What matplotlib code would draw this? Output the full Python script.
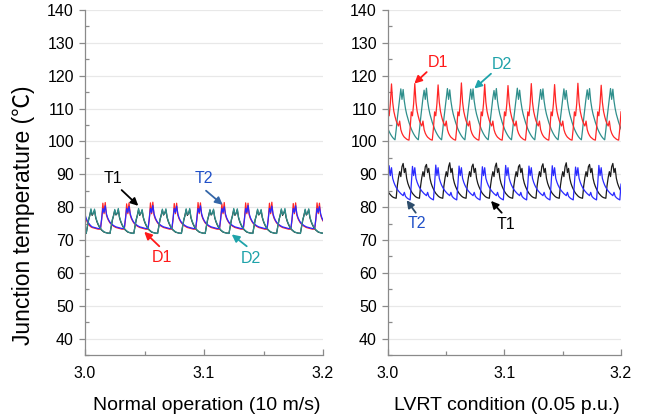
import numpy as np
import matplotlib.pyplot as plt
from matplotlib.ticker import MultipleLocator, FormatStrFormatter

plt.rcParams['font.family'] = ['Liberation Sans', 'DejaVu Sans']

# sampling of the simulated junction temperatures (s)
T_START = 3.0
DT = 0.001

# ---- normal operation (10 m/s) ----
NORM_T1 = [
    72.1, 72.0, 74.0, 76.0, 77.6, 79.1, 77.5, 78.2, 79.0, 76.8, 75.6, 74.7, 74.0, 73.4, 73.0, 72.7, 72.4, 72.3, 72.2, 72.1,
    72.1, 72.0, 74.0, 76.0, 77.5, 79.0, 77.6, 78.1, 79.2, 76.8, 75.6, 74.7, 74.0, 73.4, 73.0, 72.7, 72.4, 72.3, 72.2, 72.1,
    72.1, 72.0, 74.1, 76.0, 77.6, 79.2, 77.5, 78.2, 79.0, 76.8, 75.6, 74.7, 74.0, 73.4, 73.0, 72.7, 72.4, 72.3, 72.2, 72.1,
    72.1, 72.0, 74.0, 76.1, 77.6, 79.1, 77.6, 78.2, 79.1, 76.8, 75.6, 74.7, 74.0, 73.4, 73.0, 72.7, 72.4, 72.3, 72.2, 72.1,
    72.1, 72.0, 74.0, 76.0, 77.5, 79.2, 77.5, 78.1, 79.2, 76.8, 75.6, 74.7, 74.0, 73.4, 73.0, 72.7, 72.4, 72.3, 72.2, 72.1,
    72.1, 72.0, 74.1, 76.0, 77.6, 79.0, 77.6, 78.2, 79.1, 76.8, 75.6, 74.7, 74.0, 73.4, 73.0, 72.7, 72.4, 72.3, 72.2, 72.1,
    72.1, 72.0, 74.0, 76.0, 77.6, 79.2, 77.5, 78.2, 79.2, 76.8, 75.6, 74.7, 74.0, 73.4, 73.0, 72.7, 72.4, 72.3, 72.2, 72.1,
    72.1, 72.0, 74.0, 76.1, 77.5, 79.1, 77.6, 78.1, 79.0, 76.8, 75.6, 74.7, 74.0, 73.4, 73.0, 72.7, 72.4, 72.3, 72.2, 72.1,
    72.1, 72.0, 74.1, 76.0, 77.6, 79.2, 77.5, 78.2, 79.1, 76.8, 75.6, 74.7, 74.0, 73.4, 73.0, 72.7, 72.4, 72.3, 72.2, 72.1,
    72.1, 72.0, 74.0, 76.0, 77.6, 79.1, 77.6, 78.2, 79.2, 76.8, 75.6, 74.7, 74.0, 73.4, 73.0, 72.7, 72.4, 72.3, 72.2, 72.1,
    72.1,
]
NORM_D1 = [
    77.2, 76.2, 75.4, 74.8, 74.3, 74.0, 73.8, 73.7, 73.6, 73.5, 73.4, 73.3, 73.3, 73.3, 76.2, 81.2, 78.0, 81.4, 77.6, 76.5,
    75.8, 75.2, 74.8, 74.5, 74.2, 74.0, 73.8, 73.7, 73.6, 73.5, 73.4, 73.3, 73.3, 73.3, 76.2, 81.0, 78.0, 81.3, 77.6, 76.5,
    75.8, 75.2, 74.8, 74.5, 74.2, 74.0, 73.8, 73.7, 73.6, 73.5, 73.4, 73.3, 73.3, 73.3, 76.2, 81.3, 78.0, 81.5, 77.6, 76.5,
    75.8, 75.2, 74.8, 74.5, 74.2, 74.0, 73.8, 73.7, 73.6, 73.5, 73.4, 73.3, 73.3, 73.3, 76.2, 81.1, 78.0, 81.2, 77.6, 76.5,
    75.8, 75.2, 74.8, 74.5, 74.2, 74.0, 73.8, 73.7, 73.6, 73.5, 73.4, 73.3, 73.3, 73.3, 76.2, 81.4, 78.0, 81.3, 77.6, 76.5,
    75.8, 75.2, 74.8, 74.5, 74.2, 74.0, 73.8, 73.7, 73.6, 73.5, 73.4, 73.3, 73.3, 73.3, 76.2, 81.0, 78.0, 81.4, 77.6, 76.5,
    75.8, 75.2, 74.8, 74.5, 74.2, 74.0, 73.8, 73.7, 73.6, 73.5, 73.4, 73.3, 73.3, 73.3, 76.2, 81.3, 78.0, 81.2, 77.6, 76.5,
    75.8, 75.2, 74.8, 74.5, 74.2, 74.0, 73.8, 73.7, 73.6, 73.5, 73.4, 73.3, 73.3, 73.3, 76.2, 81.2, 78.0, 81.5, 77.6, 76.5,
    75.8, 75.2, 74.8, 74.5, 74.2, 74.0, 73.8, 73.7, 73.6, 73.5, 73.4, 73.3, 73.3, 73.3, 76.2, 81.1, 78.0, 81.3, 77.6, 76.5,
    75.8, 75.2, 74.8, 74.5, 74.2, 74.0, 73.8, 73.7, 73.6, 73.5, 73.4, 73.3, 73.3, 73.3, 76.2, 81.3, 78.0, 81.2, 77.6, 76.5,
    75.8,
]
NORM_T2 = [
    77.8, 76.6, 75.8, 75.2, 74.7, 74.3, 74.0, 73.9, 73.8, 73.7, 73.6, 73.5, 73.5, 73.5, 76.5, 79.6, 78.4, 80.4, 78.0, 76.8,
    76.0, 75.4, 75.0, 74.7, 74.4, 74.2, 74.0, 73.9, 73.8, 73.7, 73.6, 73.5, 73.5, 73.5, 76.5, 79.6, 78.4, 80.2, 78.0, 76.8,
    76.0, 75.4, 75.0, 74.7, 74.4, 74.2, 74.0, 73.9, 73.8, 73.7, 73.6, 73.5, 73.5, 73.5, 76.5, 79.6, 78.4, 80.5, 78.0, 76.8,
    76.0, 75.4, 75.0, 74.7, 74.4, 74.2, 74.0, 73.9, 73.8, 73.7, 73.6, 73.5, 73.5, 73.5, 76.5, 79.6, 78.4, 80.3, 78.0, 76.8,
    76.0, 75.4, 75.0, 74.7, 74.4, 74.2, 74.0, 73.9, 73.8, 73.7, 73.6, 73.5, 73.5, 73.5, 76.5, 79.6, 78.4, 80.4, 78.0, 76.8,
    76.0, 75.4, 75.0, 74.7, 74.4, 74.2, 74.0, 73.9, 73.8, 73.7, 73.6, 73.5, 73.5, 73.5, 76.5, 79.6, 78.4, 80.1, 78.0, 76.8,
    76.0, 75.4, 75.0, 74.7, 74.4, 74.2, 74.0, 73.9, 73.8, 73.7, 73.6, 73.5, 73.5, 73.5, 76.5, 79.6, 78.4, 80.5, 78.0, 76.8,
    76.0, 75.4, 75.0, 74.7, 74.4, 74.2, 74.0, 73.9, 73.8, 73.7, 73.6, 73.5, 73.5, 73.5, 76.5, 79.6, 78.4, 80.3, 78.0, 76.8,
    76.0, 75.4, 75.0, 74.7, 74.4, 74.2, 74.0, 73.9, 73.8, 73.7, 73.6, 73.5, 73.5, 73.5, 76.5, 79.6, 78.4, 80.4, 78.0, 76.8,
    76.0, 75.4, 75.0, 74.7, 74.4, 74.2, 74.0, 73.9, 73.8, 73.7, 73.6, 73.5, 73.5, 73.5, 76.5, 79.6, 78.4, 80.2, 78.0, 76.8,
    76.0,
]
NORM_D2 = [
    72.0, 72.0, 74.2, 76.3, 77.3, 79.5, 77.8, 78.0, 79.4, 77.0, 75.8, 74.9, 74.2, 73.6, 73.1, 72.8, 72.5, 72.3, 72.2, 72.1,
    72.0, 72.0, 74.2, 76.3, 77.3, 79.3, 77.8, 78.0, 79.6, 77.0, 75.8, 74.9, 74.2, 73.6, 73.1, 72.8, 72.5, 72.3, 72.2, 72.1,
    72.0, 72.0, 74.2, 76.3, 77.3, 79.6, 77.8, 78.0, 79.3, 77.0, 75.8, 74.9, 74.2, 73.6, 73.1, 72.8, 72.5, 72.3, 72.2, 72.1,
    72.0, 72.0, 74.2, 76.3, 77.3, 79.4, 77.8, 78.0, 79.5, 77.0, 75.8, 74.9, 74.2, 73.6, 73.1, 72.8, 72.5, 72.3, 72.2, 72.1,
    72.0, 72.0, 74.2, 76.3, 77.3, 79.5, 77.8, 78.0, 79.6, 77.0, 75.8, 74.9, 74.2, 73.6, 73.1, 72.8, 72.5, 72.3, 72.2, 72.1,
    72.0, 72.0, 74.2, 76.3, 77.3, 79.3, 77.8, 78.0, 79.4, 77.0, 75.8, 74.9, 74.2, 73.6, 73.1, 72.8, 72.5, 72.3, 72.2, 72.1,
    72.0, 72.0, 74.2, 76.3, 77.3, 79.6, 77.8, 78.0, 79.5, 77.0, 75.8, 74.9, 74.2, 73.6, 73.1, 72.8, 72.5, 72.3, 72.2, 72.1,
    72.0, 72.0, 74.2, 76.3, 77.3, 79.4, 77.8, 78.0, 79.3, 77.0, 75.8, 74.9, 74.2, 73.6, 73.1, 72.8, 72.5, 72.3, 72.2, 72.1,
    72.0, 72.0, 74.2, 76.3, 77.3, 79.5, 77.8, 78.0, 79.6, 77.0, 75.8, 74.9, 74.2, 73.6, 73.1, 72.8, 72.5, 72.3, 72.2, 72.1,
    72.0, 72.0, 74.2, 76.3, 77.3, 79.4, 77.8, 78.0, 79.5, 77.0, 75.8, 74.9, 74.2, 73.6, 73.1, 72.8, 72.5, 72.3, 72.2, 72.1,
    72.0,
]

# ---- LVRT condition (0.05 p.u.) ----
LVRT_T1 = [
    84.8, 84.2, 83.8, 83.4, 83.1, 82.9, 82.8, 82.7, 86.5, 89.0, 90.8, 89.3, 92.3, 93.3, 90.5, 91.8, 88.8, 87.3, 86.3, 85.5,
    84.8, 84.2, 83.8, 83.4, 83.1, 82.9, 82.8, 82.7, 86.5, 89.0, 90.8, 89.3, 92.3, 93.0, 90.5, 91.8, 88.8, 87.3, 86.3, 85.5,
    84.8, 84.2, 83.8, 83.4, 83.1, 82.9, 82.8, 82.7, 86.5, 89.0, 90.8, 89.3, 92.3, 93.5, 90.5, 91.8, 88.8, 87.3, 86.3, 85.5,
    84.8, 84.2, 83.8, 83.4, 83.1, 82.9, 82.8, 82.7, 86.5, 89.0, 90.8, 89.3, 92.3, 93.1, 90.5, 91.8, 88.8, 87.3, 86.3, 85.5,
    84.8, 84.2, 83.8, 83.4, 83.1, 82.9, 82.8, 82.7, 86.5, 89.0, 90.8, 89.3, 92.3, 93.4, 90.5, 91.8, 88.8, 87.3, 86.3, 85.5,
    84.8, 84.2, 83.8, 83.4, 83.1, 82.9, 82.8, 82.7, 86.5, 89.0, 90.8, 89.3, 92.3, 92.9, 90.5, 91.8, 88.8, 87.3, 86.3, 85.5,
    84.8, 84.2, 83.8, 83.4, 83.1, 82.9, 82.8, 82.7, 86.5, 89.0, 90.8, 89.3, 92.3, 93.2, 90.5, 91.8, 88.8, 87.3, 86.3, 85.5,
    84.8, 84.2, 83.8, 83.4, 83.1, 82.9, 82.8, 82.7, 86.5, 89.0, 90.8, 89.3, 92.3, 93.5, 90.5, 91.8, 88.8, 87.3, 86.3, 85.5,
    84.8, 84.2, 83.8, 83.4, 83.1, 82.9, 82.8, 82.7, 86.5, 89.0, 90.8, 89.3, 92.3, 93.0, 90.5, 91.8, 88.8, 87.3, 86.3, 85.5,
    84.8, 84.2, 83.8, 83.4, 83.1, 82.9, 82.8, 82.7, 86.5, 89.0, 90.8, 89.3, 92.3, 93.3, 90.5, 91.8, 88.8, 87.3, 86.3, 85.5,
    84.8,
]
LVRT_D1 = [
    109.0, 107.8, 111.5, 117.5, 112.0, 109.2, 107.6, 106.3, 105.4, 104.7, 106.2, 103.6, 102.5, 101.8, 101.3, 101.0, 100.7, 100.5, 100.4, 104.0,
    109.0, 107.8, 111.5, 117.6, 112.0, 109.2, 107.6, 106.3, 105.4, 104.7, 106.2, 103.6, 102.5, 101.8, 101.3, 101.0, 100.7, 100.5, 100.4, 104.0,
    109.0, 107.8, 111.5, 117.2, 112.0, 109.2, 107.6, 106.3, 105.4, 104.7, 106.2, 103.6, 102.5, 101.8, 101.3, 101.0, 100.7, 100.5, 100.4, 104.0,
    109.0, 107.8, 111.5, 117.8, 112.0, 109.2, 107.6, 106.3, 105.4, 104.7, 106.2, 103.6, 102.5, 101.8, 101.3, 101.0, 100.7, 100.5, 100.4, 104.0,
    109.0, 107.8, 111.5, 117.4, 112.0, 109.2, 107.6, 106.3, 105.4, 104.7, 106.2, 103.6, 102.5, 101.8, 101.3, 101.0, 100.7, 100.5, 100.4, 104.0,
    109.0, 107.8, 111.5, 117.0, 112.0, 109.2, 107.6, 106.3, 105.4, 104.7, 106.2, 103.6, 102.5, 101.8, 101.3, 101.0, 100.7, 100.5, 100.4, 104.0,
    109.0, 107.8, 111.5, 117.6, 112.0, 109.2, 107.6, 106.3, 105.4, 104.7, 106.2, 103.6, 102.5, 101.8, 101.3, 101.0, 100.7, 100.5, 100.4, 104.0,
    109.0, 107.8, 111.5, 117.3, 112.0, 109.2, 107.6, 106.3, 105.4, 104.7, 106.2, 103.6, 102.5, 101.8, 101.3, 101.0, 100.7, 100.5, 100.4, 104.0,
    109.0, 107.8, 111.5, 117.7, 112.0, 109.2, 107.6, 106.3, 105.4, 104.7, 106.2, 103.6, 102.5, 101.8, 101.3, 101.0, 100.7, 100.5, 100.4, 104.0,
    109.0, 107.8, 111.5, 117.1, 112.0, 109.2, 107.6, 106.3, 105.4, 104.7, 106.2, 103.6, 102.5, 101.8, 101.3, 101.0, 100.7, 100.5, 100.4, 104.0,
    109.0,
]
LVRT_T2 = [
    87.0, 92.6, 89.6, 92.0, 88.8, 87.6, 86.7, 86.0, 85.4, 84.9, 84.5, 84.1, 83.8, 83.5, 84.5, 83.3, 82.9, 82.6, 82.4, 82.2,
    87.0, 92.4, 89.6, 92.0, 88.8, 87.6, 86.7, 86.0, 85.4, 84.9, 84.5, 84.1, 83.8, 83.5, 84.5, 83.3, 82.9, 82.6, 82.4, 82.2,
    87.0, 92.8, 89.6, 92.0, 88.8, 87.6, 86.7, 86.0, 85.4, 84.9, 84.5, 84.1, 83.8, 83.5, 84.5, 83.3, 82.9, 82.6, 82.4, 82.2,
    87.0, 92.5, 89.6, 92.0, 88.8, 87.6, 86.7, 86.0, 85.4, 84.9, 84.5, 84.1, 83.8, 83.5, 84.5, 83.3, 82.9, 82.6, 82.4, 82.2,
    87.0, 92.3, 89.6, 92.0, 88.8, 87.6, 86.7, 86.0, 85.4, 84.9, 84.5, 84.1, 83.8, 83.5, 84.5, 83.3, 82.9, 82.6, 82.4, 82.2,
    87.0, 92.7, 89.6, 92.0, 88.8, 87.6, 86.7, 86.0, 85.4, 84.9, 84.5, 84.1, 83.8, 83.5, 84.5, 83.3, 82.9, 82.6, 82.4, 82.2,
    87.0, 92.5, 89.6, 92.0, 88.8, 87.6, 86.7, 86.0, 85.4, 84.9, 84.5, 84.1, 83.8, 83.5, 84.5, 83.3, 82.9, 82.6, 82.4, 82.2,
    87.0, 92.6, 89.6, 92.0, 88.8, 87.6, 86.7, 86.0, 85.4, 84.9, 84.5, 84.1, 83.8, 83.5, 84.5, 83.3, 82.9, 82.6, 82.4, 82.2,
    87.0, 92.2, 89.6, 92.0, 88.8, 87.6, 86.7, 86.0, 85.4, 84.9, 84.5, 84.1, 83.8, 83.5, 84.5, 83.3, 82.9, 82.6, 82.4, 82.2,
    87.0, 92.7, 89.6, 92.0, 88.8, 87.6, 86.7, 86.0, 85.4, 84.9, 84.5, 84.1, 83.8, 83.5, 84.5, 83.3, 82.9, 82.6, 82.4, 82.2,
    87.0,
]
LVRT_D2 = [
    103.8, 103.0, 102.3, 101.7, 101.2, 100.8, 100.5, 103.5, 107.0, 110.0, 113.2, 116.0, 112.8, 115.8, 112.3, 110.0, 108.3, 107.0, 105.8, 104.8,
    103.8, 103.0, 102.3, 101.7, 101.2, 100.8, 100.5, 103.5, 107.0, 110.0, 113.2, 115.6, 112.8, 116.2, 112.3, 110.0, 108.3, 107.0, 105.8, 104.8,
    103.8, 103.0, 102.3, 101.7, 101.2, 100.8, 100.5, 103.5, 107.0, 110.0, 113.2, 116.1, 112.8, 115.7, 112.3, 110.0, 108.3, 107.0, 105.8, 104.8,
    103.8, 103.0, 102.3, 101.7, 101.2, 100.8, 100.5, 103.5, 107.0, 110.0, 113.2, 115.9, 112.8, 116.0, 112.3, 110.0, 108.3, 107.0, 105.8, 104.8,
    103.8, 103.0, 102.3, 101.7, 101.2, 100.8, 100.5, 103.5, 107.0, 110.0, 113.2, 115.5, 112.8, 116.1, 112.3, 110.0, 108.3, 107.0, 105.8, 104.8,
    103.8, 103.0, 102.3, 101.7, 101.2, 100.8, 100.5, 103.5, 107.0, 110.0, 113.2, 116.2, 112.8, 115.6, 112.3, 110.0, 108.3, 107.0, 105.8, 104.8,
    103.8, 103.0, 102.3, 101.7, 101.2, 100.8, 100.5, 103.5, 107.0, 110.0, 113.2, 115.8, 112.8, 116.0, 112.3, 110.0, 108.3, 107.0, 105.8, 104.8,
    103.8, 103.0, 102.3, 101.7, 101.2, 100.8, 100.5, 103.5, 107.0, 110.0, 113.2, 116.0, 112.8, 115.5, 112.3, 110.0, 108.3, 107.0, 105.8, 104.8,
    103.8, 103.0, 102.3, 101.7, 101.2, 100.8, 100.5, 103.5, 107.0, 110.0, 113.2, 115.7, 112.8, 116.1, 112.3, 110.0, 108.3, 107.0, 105.8, 104.8,
    103.8, 103.0, 102.3, 101.7, 101.2, 100.8, 100.5, 103.5, 107.0, 110.0, 113.2, 116.1, 112.8, 115.9, 112.3, 110.0, 108.3, 107.0, 105.8, 104.8,
    103.8,
]

C_T1 = '#1a1a1a'
C_D1 = '#ff2626'
C_T2 = '#2a2aff'
C_D2 = '#2f8f8c'


def style_axes(ax):
    ax.set_xlim(3.0, 3.2)
    ax.set_ylim(35, 140)
    for side in ('top', 'right'):
        ax.spines[side].set_visible(False)
    for side in ('left', 'bottom'):
        ax.spines[side].set_color('#8a8a8a')
        ax.spines[side].set_linewidth(0.9)
    ax.xaxis.set_major_locator(MultipleLocator(0.1))
    ax.xaxis.set_minor_locator(MultipleLocator(0.05))
    ax.xaxis.set_major_formatter(FormatStrFormatter('%.1f'))
    ax.yaxis.set_major_locator(MultipleLocator(10))
    ax.yaxis.set_minor_locator(MultipleLocator(5))
    ax.tick_params(axis='x', which='major', direction='in', length=4, width=0.9,
                   color='#8a8a8a', labelsize=11.5, pad=8)
    ax.tick_params(axis='x', which='minor', direction='in', length=3, width=0.9,
                   color='#8a8a8a')
    ax.tick_params(axis='y', which='major', direction='out', length=4, width=0.9,
                   color='#8a8a8a', labelsize=11.5, pad=4)
    ax.tick_params(axis='y', which='minor', direction='in', length=3, width=0.9,
                   color='#8a8a8a')
    ax.grid(axis='y', which='major', color='#e8e8e8', lw=0.9)
    ax.set_axisbelow(True)


def draw(ax, series):
    for vals, color in series:
        t = T_START + DT * np.arange(len(vals))
        ax.plot(t, vals, color=color, lw=0.9)


def label(ax, text, color, txt_xy, tail, tip, arrow_color=None):
    ax.text(*txt_xy, text, color=color, fontsize=11.5, ha='center', va='center')
    ax.annotate('', xy=tip, xytext=tail,
                arrowprops=dict(arrowstyle='-|>', color=arrow_color or color,
                                lw=1.3, mutation_scale=11, shrinkA=0, shrinkB=0))


fig = plt.figure(figsize=(6.55, 4.2), dpi=100)
ax1 = fig.add_axes([85 / 655, 65 / 420, 238 / 655, 345 / 420])
ax2 = fig.add_axes([388 / 655, 65 / 420, 233 / 655, 345 / 420])

for ax in (ax1, ax2):
    style_axes(ax)

draw(ax1, [(NORM_T1, C_T1), (NORM_D1, C_D1), (NORM_T2, C_T2), (NORM_D2, C_D2)])
draw(ax2, [(LVRT_T1, C_T1), (LVRT_D2, C_D2), (LVRT_D1, C_D1), (LVRT_T2, C_T2)])

label(ax1, 'T1', 'black', (3.0235, 88.6), (3.0308, 85.2), (3.0448, 80.4))
label(ax1, 'T2', '#2050c8', (3.100, 88.6), (3.1017, 85.0), (3.1157, 80.7), '#3466a8')
label(ax1, 'D1', '#ff1a1a', (3.0647, 64.8), (3.0624, 68.1), (3.0498, 72.5))
label(ax1, 'D2', '#1fa3aa', (3.1395, 64.5), (3.1359, 68.1), (3.1233, 71.7))

label(ax2, 'D1', '#ff1a1a', (3.0429, 124.1), (3.0332, 121.1), (3.0226, 117.6))
label(ax2, 'D2', '#1fa3aa', (3.0978, 123.5), (3.0884, 120.6), (3.0741, 116.1))
label(ax2, 'T2', '#2050c8', (3.0249, 74.9), (3.0238, 78.3), (3.0160, 82.1), '#2d4d6b')
label(ax2, 'T1', 'black', (3.1013, 74.6), (3.0976, 78.3), (3.0884, 81.9))

fig.text(24 / 655, 0.488, 'Junction temperature (℃)', rotation=90,
         ha='center', va='center', fontsize=16.5,
         family=['Liberation Sans', 'Noto Sans CJK SC', 'DejaVu Sans'])
fig.text(207 / 655, 14 / 420, 'Normal operation (10 m/s)', ha='center', va='center', fontsize=14)
fig.text(507 / 655, 14 / 420, 'LVRT condition (0.05 p.u.)', ha='center', va='center', fontsize=14)

fig.savefig('out.png', dpi=100)
